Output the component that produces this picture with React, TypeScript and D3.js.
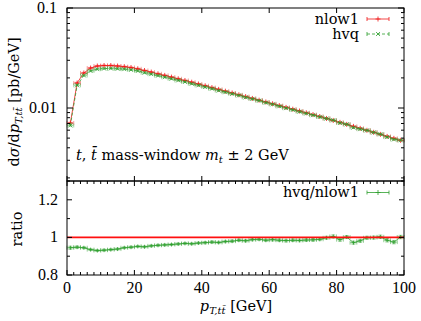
import React from "react";
import * as d3 from "d3";

const ptCenters = [1,3,5,7,9,11,13,15,17,19,21,23,25,27,29,31,33,35,37,39,41,43,45,47,49,51,53,55,57,59,61,63,65,67,69,71,73,75,77,79,81,83,85,87,89,91,93,95,97,99];
const nlow1 = [0.00708,0.0178,0.0224,0.0251,0.0263,0.0266,0.0266,0.0263,0.0259,0.0254,0.02466,0.02371,0.02286,0.02198,0.02118,0.02037,0.01959,0.01884,0.01811,0.01738,0.01668,0.0160,0.01535,0.01472,0.01413,0.01355,0.0130,0.01247,0.01197,0.01148,0.01102,0.01057,0.01014,0.00973,0.00933,0.00895,0.00859,0.00822,0.00786,0.00751,0.00718,0.00686,0.00655,0.00626,0.00598,0.00571,0.00545,0.00520,0.00497,0.00475];
const hvq = [0.00669,0.01687,0.02117,0.02347,0.02446,0.02479,0.02487,0.02467,0.02448,0.02408,0.02348,0.02252,0.02183,0.02106,0.02033,0.0196,0.0189,0.01824,0.01749,0.01686,0.01621,0.0156,0.01494,0.0144,0.01385,0.01335,0.01277,0.01232,0.01185,0.01131,0.01089,0.01041,0.00997,0.00958,0.00918,0.00882,0.00848,0.00814,0.00784,0.00755,0.00709,0.00687,0.00637,0.00615,0.00597,0.0057,0.00547,0.00512,0.00485,0.00476];
const ratio = [0.945,0.948,0.945,0.935,0.93,0.932,0.935,0.938,0.945,0.948,0.952,0.95,0.955,0.958,0.96,0.962,0.965,0.968,0.966,0.97,0.972,0.975,0.973,0.978,0.98,0.985,0.982,0.988,0.99,0.985,0.988,0.985,0.983,0.985,0.984,0.986,0.987,0.99,0.998,1.005,0.988,1.002,0.972,0.982,0.998,0.999,1.003,0.985,0.975,1.002];
const ratioErr = [0.008,0.006,0.005,0.005,0.005,0.005,0.005,0.005,0.005,0.005,0.005,0.005,0.005,0.005,0.005,0.005,0.005,0.005,0.005,0.005,0.006,0.006,0.006,0.006,0.006,0.006,0.006,0.006,0.006,0.006,0.007,0.007,0.007,0.007,0.007,0.007,0.007,0.007,0.008,0.008,0.008,0.008,0.008,0.008,0.008,0.008,0.009,0.009,0.009,0.009];
const relErr = 0.015;
const binHalf = 1;

const xTicks = [0, 20, 40, 60, 80, 100];
const xMinor = d3.range(0, 101, 2);
const yMajorUpper = [0.1, 0.01];
const yMinorUpper = [0.002,0.003,0.004,0.005,0.006,0.007,0.008,0.009,0.02,0.03,0.04,0.05,0.06,0.07,0.08,0.09];
const yRatioLabels = [0.8, 1.0, 1.2];
const yRatioMinor = [0.9, 1.1, 1.3];

const L = 67, R = 404, T = 8, M = 181, B = 275;
const RED = "#f01818";
const GREEN = "#2ea02e";
const NUMFONT = "'Liberation Serif', serif";
const TXTFONT = "'DejaVu Serif', serif";

export default function App() {
  const x = d3.scaleLinear().domain([0, 100]).range([L, R]);
  const yU = d3.scaleLog().domain([Math.pow(10, -2.73), 0.1]).range([M, T]);
  const yR = d3.scaleLinear().domain([0.8, 1.3]).range([B, M]);

  const lineU = d3.line<number>().x((_, i) => x(ptCenters[i])).y((d) => yU(d));
  const lineR = d3.line<number>().x((_, i) => x(ptCenters[i])).y((d) => yR(d));

  const cap = 2;
  const errU = (vals: number[], color: string) =>
    vals.map((v, i) => {
      const cx = x(ptCenters[i]);
      const x0 = x(ptCenters[i] - binHalf), x1 = x(ptCenters[i] + binHalf);
      const cy = yU(v);
      const ylo = yU(v * (1 - relErr)), yhi = yU(v * (1 + relErr));
      return (
        <g key={i} stroke={color} strokeWidth={0.7} opacity={0.6}>
          <line x1={x0} x2={x1} y1={cy} y2={cy} />
          <line x1={x0} x2={x0} y1={cy - cap} y2={cy + cap} />
          <line x1={x1} x2={x1} y1={cy - cap} y2={cy + cap} />
          <line x1={cx} x2={cx} y1={ylo} y2={yhi} />
          <line x1={cx - cap} x2={cx + cap} y1={ylo} y2={ylo} />
          <line x1={cx - cap} x2={cx + cap} y1={yhi} y2={yhi} />
        </g>
      );
    });

  const plus = (cx: number, cy: number, s: number, color: string, k: any) => (
    <g key={k} stroke={color} strokeWidth={0.8}>
      <line x1={cx - s} x2={cx + s} y1={cy} y2={cy} />
      <line x1={cx} x2={cx} y1={cy - s} y2={cy + s} />
    </g>
  );
  const cross = (cx: number, cy: number, s: number, color: string, k: any) => (
    <g key={k} stroke={color} strokeWidth={0.8}>
      <line x1={cx - s} x2={cx + s} y1={cy - s} y2={cy + s} />
      <line x1={cx - s} x2={cx + s} y1={cy + s} y2={cy - s} />
    </g>
  );

  const legendSample = (y: number, color: string, dashed: boolean, marker: "plus" | "cross") => {
    const a = 367, b = 389, m = (a + b) / 2;
    return (
      <g>
        <line x1={a} x2={b} y1={y} y2={y} stroke={color} strokeWidth={0.8} strokeDasharray={dashed ? "3,2" : undefined} />
        <line x1={a} x2={a} y1={y - cap} y2={y + cap} stroke={color} strokeWidth={0.8} />
        <line x1={b} x2={b} y1={y - cap} y2={y + cap} stroke={color} strokeWidth={0.8} />
        {marker === "plus" ? plus(m, y, 2.5, color, "m") : cross(m, y, 2, color, "m")}
      </g>
    );
  };

  const tbar = "t\u0304";
  const ax = { stroke: "#000", strokeWidth: 1 };
  const yOne = yR(1);

  return (
    <div style={{ position: "absolute", left: 0, top: 0 }}>
      <svg width={421} height={321} viewBox="0 0 421 321" style={{ display: "block", background: "#fff" }}>
        <rect width={421} height={321} fill="#fff" />
        {/* Upper panel data */}
        <path d={lineU(nlow1) || ""} fill="none" stroke={RED} strokeWidth={0.8} />
        {errU(nlow1, RED)}
        {nlow1.map((v, i) => plus(x(ptCenters[i]), yU(v), 2.5, RED, "p" + i))}
        <path d={lineU(hvq) || ""} fill="none" stroke={GREEN} strokeWidth={0.8} strokeDasharray="3,2" />
        {errU(hvq, GREEN)}
        {hvq.map((v, i) => cross(x(ptCenters[i]), yU(v), 2, GREEN, "c" + i))}

        {/* Ratio panel data */}
        <path d={lineR(ratio) || ""} fill="none" stroke={GREEN} strokeWidth={0.8} />
        {ratio.map((v, i) => {
          const cx = x(ptCenters[i]);
          const x0 = x(ptCenters[i] - binHalf), x1 = x(ptCenters[i] + binHalf);
          const cy = yR(v), ylo = yR(v - ratioErr[i]), yhi = yR(v + ratioErr[i]);
          return (
            <g key={"r" + i} stroke={GREEN} strokeWidth={0.7} opacity={0.7}>
              <line x1={x0} x2={x1} y1={cy} y2={cy} />
              <line x1={x0} x2={x0} y1={cy - cap} y2={cy + cap} />
              <line x1={x1} x2={x1} y1={cy - cap} y2={cy + cap} />
              <line x1={cx} x2={cx} y1={ylo} y2={yhi} />
              <line x1={cx - cap} x2={cx + cap} y1={ylo} y2={ylo} />
              <line x1={cx - cap} x2={cx + cap} y1={yhi} y2={yhi} />
            </g>
          );
        })}
        {ratio.map((v, i) => plus(x(ptCenters[i]), yR(v), 2, GREEN, "rp" + i))}
        <line x1={L} x2={R} y1={yOne} y2={yOne} stroke="#ff1010" strokeWidth={1.8} />

        {/* Frames */}
        <rect x={L} y={T} width={R - L} height={M - T} fill="none" {...ax} />
        <rect x={L} y={M} width={R - L} height={B - M} fill="none" {...ax} />

        {/* Upper panel ticks */}
        {xTicks.map((t) => (
          <g key={"ut" + t} {...ax}>
            <line x1={x(t)} x2={x(t)} y1={T} y2={T + 5} />
            <line x1={x(t)} x2={x(t)} y1={M} y2={M - 5} />
          </g>
        ))}
        {yMajorUpper.map((t) => (
          <g key={"uy" + t} {...ax}>
            <line x1={L} x2={L + 6} y1={yU(t)} y2={yU(t)} />
            <line x1={R} x2={R - 6} y1={yU(t)} y2={yU(t)} />
          </g>
        ))}
        {yMinorUpper.map((t) => (
          <g key={"um" + t} {...ax}>
            <line x1={L} x2={L + 3} y1={yU(t)} y2={yU(t)} />
            <line x1={R} x2={R - 3} y1={yU(t)} y2={yU(t)} />
          </g>
        ))}
        {yMajorUpper.map((t) => (
          <text key={"uyl" + t} x={57} y={yU(t) + 5} textAnchor="end" fontSize={16} fontFamily={NUMFONT} fill="#000">{t === 0.1 ? "0.1" : "0.01"}</text>
        ))}

        {/* Ratio ticks */}
        {xMinor.map((t) => (
          <g key={"rm" + t} {...ax}>
            <line x1={x(t)} x2={x(t)} y1={B} y2={B - (t % 20 === 0 ? 5 : 3)} />
            <line x1={x(t)} x2={x(t)} y1={M} y2={M + (t % 20 === 0 ? 5 : 3)} />
          </g>
        ))}
        {yRatioLabels.map((t) => (
          <g key={"ry" + t} {...ax}>
            <line x1={L} x2={L + 5} y1={yR(t)} y2={yR(t)} />
            <line x1={R} x2={R - 5} y1={yR(t)} y2={yR(t)} />
          </g>
        ))}
        {yRatioMinor.map((t) => (
          <g key={"rym" + t} {...ax}>
            <line x1={L} x2={L + 3} y1={yR(t)} y2={yR(t)} />
            <line x1={R} x2={R - 3} y1={yR(t)} y2={yR(t)} />
          </g>
        ))}
        {yRatioLabels.map((t) => (
          <text key={"ryl" + t} x={58} y={yR(t) + 5} textAnchor="end" fontSize={16} fontFamily={NUMFONT} fill="#000">{t === 1 ? "1" : t.toFixed(1)}</text>
        ))}
        {xTicks.map((t) => (
          <text key={"xl" + t} x={x(t)} y={293} textAnchor="middle" fontSize={16} fontFamily={NUMFONT} fill="#000">{t}</text>
        ))}

        {/* Axis titles */}
        <text x={236} y={311} textAnchor="middle" fontSize={14.5} fontFamily={TXTFONT} fill="#000">
          <tspan fontStyle="italic">p</tspan>
          <tspan fontStyle="italic" fontSize={10} dy={3}>{"T,t" + tbar}</tspan>
          <tspan dy={-3}>{" [GeV]"}</tspan>
        </text>
        <text transform="translate(19,102) rotate(-90)" textAnchor="middle" fontSize={14.5} fontFamily={TXTFONT} fill="#000">
          <tspan>d</tspan>
          <tspan fontStyle="italic">σ</tspan>
          <tspan>/d</tspan>
          <tspan fontStyle="italic">p</tspan>
          <tspan fontStyle="italic" fontSize={10} dy={3}>{"T,t" + tbar}</tspan>
          <tspan dy={-3}>{" [pb/GeV]"}</tspan>
        </text>
        <text transform="translate(22,229) rotate(-90)" textAnchor="middle" fontSize={14.5} fontFamily={TXTFONT} fill="#000">ratio</text>

        {/* Annotation */}
        <text x={76} y={160} fontSize={14.5} fontFamily={TXTFONT} fill="#000">
          <tspan fontStyle="italic">t</tspan>
          <tspan>, </tspan>
          <tspan fontStyle="italic">{tbar}</tspan>
          <tspan> mass-window </tspan>
          <tspan fontStyle="italic">m</tspan>
          <tspan fontStyle="italic" fontSize={10} dy={3}>t</tspan>
          <tspan dy={-3}>{" ± 2 GeV"}</tspan>
        </text>

        {/* Legends */}
        <text x={359} y={24} textAnchor="end" fontSize={14.5} fontFamily={TXTFONT} fill="#000">nlow1</text>
        {legendSample(19, RED, false, "plus")}
        <text x={359} y={39} textAnchor="end" fontSize={14.5} fontFamily={TXTFONT} fill="#000">hvq</text>
        {legendSample(34, GREEN, true, "cross")}
        <text x={359} y={197} textAnchor="end" fontSize={14.5} fontFamily={TXTFONT} fill="#000">hvq/nlow1</text>
        {legendSample(192.5, GREEN, false, "plus")}
      </svg>
    </div>
  );
}
